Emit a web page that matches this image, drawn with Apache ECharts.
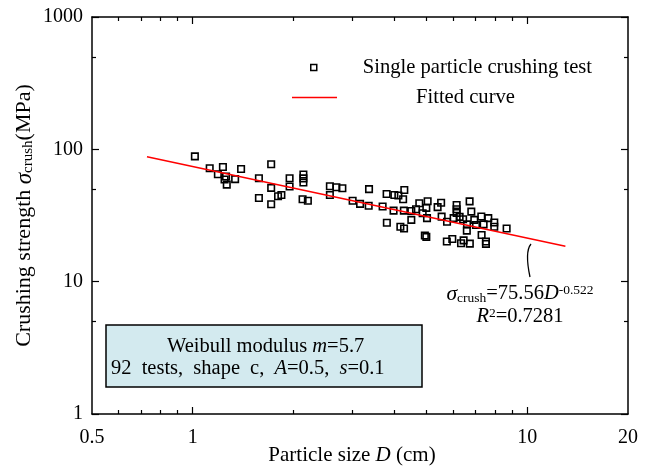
<!DOCTYPE html>
<html><head><meta charset="utf-8">
<script src="https://cdn.jsdelivr.net/npm/echarts@6/dist/echarts.min.js"></script>
<style>html,body{margin:0;padding:0;background:#fff}#c{width:646px;height:470px}</style>
</head><body><div id="c"></div>
<script>
// ---- data ----
const particleSize = [
  1.015, 1.124, 1.231, 1.189, 1.258, 1.245, 1.264, 1.339, 1.395, 1.716,
  1.577, 1.716, 1.577, 1.716, 1.799, 1.841, 1.948, 1.948, 2.142, 2.142,
  2.142, 2.130, 2.209, 2.570, 2.570, 2.688, 2.801, 3.365, 3.006, 3.164,
  3.357, 3.695, 3.798, 4.006, 4.118, 4.290, 4.255, 3.984, 4.276, 3.804,
  4.175, 4.282, 4.756, 5.037, 4.992, 4.650, 4.502, 4.867, 4.502, 5.015,
  4.941, 4.992, 5.395, 5.527, 5.546, 5.756, 6.023, 6.149, 6.149, 6.149,
  6.277, 6.430, 6.724, 6.803, 5.748, 5.969, 6.338, 6.452, 6.734, 6.605,
  6.596, 6.944, 7.288, 7.026, 7.404, 7.646, 7.968, 7.968, 7.303, 7.524,
  7.524, 8.675
];
const crushStrength = [
  88.4, 71.9, 73.6, 64.8, 62.4, 59.2, 54.1, 59.5, 71.1, 77.2,
  60.5, 51.1, 42.9, 38.5, 44.2, 45.2, 60.5, 52.4, 64.6, 60.3,
  56.2, 42.0, 40.9, 52.6, 45.2, 51.7, 50.8, 50.0, 40.9, 38.7,
  37.5, 37.0, 46.0, 45.2, 44.8, 49.3, 42.0, 34.4, 34.4, 27.9,
  26.0, 25.2, 39.1, 40.5, 36.1, 35.3, 34.2, 32.9, 29.3, 30.2,
  22.3, 21.8, 36.6, 39.5, 31.0, 28.4, 30.2, 38.0, 35.3, 33.1,
  30.9, 29.6, 40.4, 33.8, 20.1, 21.0, 19.5, 20.5, 19.4, 27.1,
  24.3, 29.3, 31.1, 26.8, 27.1, 30.2, 28.0, 26.0, 22.5, 19.3,
  20.1, 25.2
];
const fitSize = [0.73, 13];
const fitStrength = [88, 18.5];

const xTickLabels = [0.5, 1, 10, 20];
const xMajorTicks = [1, 10];
const xMinorTicks = [0.6, 0.7, 0.8, 0.9, 2, 3, 4, 5, 6, 7, 8, 9];
const yTickLabels = [1, 10, 100, 1000];
const yMajorTicks = [1, 10, 100, 1000];
const yMinorTicks = [5, 50, 500];

const seriesNames = ['Single particle crushing test', 'Fitted curve'];

// ---- chart ----
const FONT = 'Liberation Serif';
const BLACK = '#000';
const RED = '#ff0000';
const chart = echarts.init(document.getElementById('c'), null, {renderer: 'canvas'});

function axis(dim, pos, ticks, len, showLine, labels, extra) {
  const isX = dim === 'x';
  return Object.assign({
    type: 'log', logBase: 10,
    min: isX ? 0.5 : 1, max: isX ? 20 : 1000,
    position: pos,
    splitLine: {show: false},
    minorTick: {show: false},
    minorSplitLine: {show: false},
    axisLine: {show: showLine, onZero: false, lineStyle: {color: BLACK, width: 1.5}},
    axisTick: {show: true, inside: true, length: len, customValues: ticks, lineStyle: {color: BLACK, width: 1.2}},
    axisLabel: labels ? {
      show: true, customValues: labels, margin: isX ? 14 : 9,
      color: BLACK, fontFamily: FONT, fontSize: 20,
      formatter: v => String(+Number(v).toPrecision(6))
    } : {show: false},
    axisPointer: {show: false}
  }, extra || {});
}

const T = (size, extra) => Object.assign({fontFamily: FONT, fontSize: size, fill: BLACK}, extra || {});

const option = {
  animation: false,
  backgroundColor: '#fff',
  grid: {left: 92, right: 18, top: 17, bottom: 56, containLabel: false, outerBoundsMode: 'none'},
  xAxis: [
    axis('x', 'bottom', xMajorTicks, 7, true, xTickLabels, {
      name: 'Particle size {i|D} (cm)', nameLocation: 'middle', nameGap: 31, nameMoveOverlap: false,
      nameTextStyle: {
        color: BLACK, fontFamily: FONT, fontSize: 21, padding: [0, 16, 0, 0],
        rich: {i: {fontFamily: FONT, fontSize: 21, fontStyle: 'italic', color: BLACK}}
      }
    }),
    axis('x', 'bottom', xMinorTicks, 4, false, null),
    axis('x', 'top', xMajorTicks, 7, true, null),
    axis('x', 'top', xMinorTicks, 4, false, null)
  ],
  yAxis: [
    axis('y', 'left', yMajorTicks, 7, true, yTickLabels, {
      name: 'Crushing strength {g|σ}{sub|crush}(MPa)', nameLocation: 'middle', nameGap: 56, nameRotate: 90,
      nameMoveOverlap: false,
      nameTextStyle: {
        color: BLACK, fontFamily: FONT, fontSize: 22,
        rich: {
          g: {fontFamily: FONT, fontSize: 23, fontStyle: 'italic', color: BLACK},
          sub: {fontFamily: FONT, fontSize: 15, color: BLACK, verticalAlign: 'bottom'}
        }
      }
    }),
    axis('y', 'left', yMinorTicks, 4, false, null),
    axis('y', 'right', yMajorTicks, 7, true, null),
    axis('y', 'right', yMinorTicks, 4, false, null)
  ],
  legend: [
    {
      data: [seriesNames[0]], left: 310, top: 57, padding: 0,
      itemWidth: 6, itemHeight: 6, selectedMode: false,
      itemStyle: {color: 'rgba(0,0,0,0)', borderColor: BLACK, borderWidth: 1.5},
      textStyle: {color: BLACK, fontFamily: FONT, fontSize: 20.6, padding: [0, 0, 0, 41]}
    },
    {
      data: [{name: seriesNames[1], icon: 'rect'}], left: 292, top: 87, padding: 0,
      itemWidth: 45, itemHeight: 1.5, selectedMode: false,
      itemStyle: {color: RED, borderWidth: 0},
      textStyle: {color: BLACK, fontFamily: FONT, fontSize: 20.6, padding: [0, 0, 0, 74]}
    }
  ],
  series: [
    {
      name: seriesNames[0], type: 'scatter', xAxisIndex: 0, yAxisIndex: 0,
      data: particleSize.map((x, i) => [x, crushStrength[i]]),
      symbol: 'rect', symbolSize: 6.5,
      itemStyle: {color: 'rgba(0,0,0,0)', borderColor: BLACK, borderWidth: 1.6, opacity: 1},
      emphasis: {disabled: true}, z: 2
    },
    {
      name: seriesNames[1], type: 'line', xAxisIndex: 0, yAxisIndex: 0,
      data: fitSize.map((x, i) => [x, fitStrength[i]]),
      symbol: 'none', showSymbol: false,
      lineStyle: {color: RED, width: 1.5},
      itemStyle: {color: RED},
      emphasis: {disabled: true}, z: 3
    }
  ],
  graphic: [
    {type: 'rect', shape: {x: 106, y: 325, width: 316, height: 62},
     style: {fill: '#d3eaef', stroke: BLACK, lineWidth: 1.5}, z: 10},
    {type: 'text', x: 167, y: 347, z: 11,
     style: {text: '{t|Weibull modulus }{i|m}{t|=5.7}', align: 'left', verticalAlign: 'middle',
       rich: {t: T(20.5), i: T(20.5, {fontStyle: 'italic'})}}},
    {type: 'text', x: 111, y: 368.5, z: 11,
     style: {text: '{t|92}{s| }{t|tests,}{s| }{t|shape}{s| }{t|c,}{s| }{i|A}{t|=0.5,}{s| }{i|s}{t|=0.1}',
       align: 'left', verticalAlign: 'middle',
       rich: {t: T(20.5), i: T(20.5, {fontStyle: 'italic'}), s: T(20.5, {padding: [0, 3, 0, 2]})}}},
    {type: 'bezierCurve', z: 11,
     shape: {x1: 531, y1: 244, cpx1: 526, cpy1: 250, cpx2: 527, cpy2: 263, x2: 530, y2: 277},
     style: {stroke: BLACK, lineWidth: 1.3, fill: null}},
    {type: 'text', x: 520, y: 294, z: 11,
     style: {text: '{g|σ}{sub|crush}{t|=75.56}{i|D}{sup|-0.522}', align: 'center', verticalAlign: 'middle',
       rich: {t: T(20.5), g: T(21.5, {fontStyle: 'italic'}), i: T(20.5, {fontStyle: 'italic'}),
              sub: T(13.5, {verticalAlign: 'bottom'}), sup: T(13.5, {verticalAlign: 'top'})}}},
    {type: 'text', x: 520, y: 317, z: 11,
     style: {text: '{i|R}{sup|2}{t|=0.7281}', align: 'center', verticalAlign: 'middle',
       rich: {t: T(20.5), i: T(20.5, {fontStyle: 'italic'}), sup: T(13.5, {verticalAlign: 'top'})}}}
  ]
};
chart.setOption(option);
</script>
</body></html>
